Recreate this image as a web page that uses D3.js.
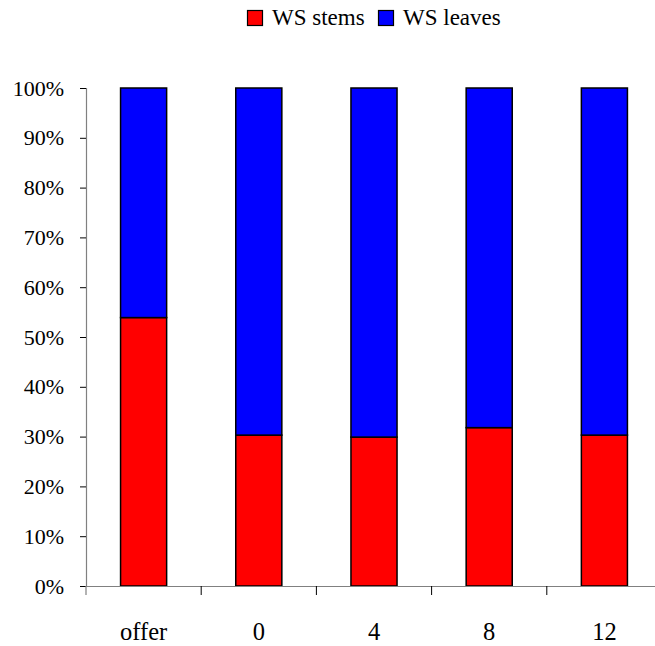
<!DOCTYPE html>
<html>
<head>
<meta charset="utf-8">
<script src="https://cdn.jsdelivr.net/npm/d3@7"></script>
<style>
  html, body { margin: 0; padding: 0; background: #fff; }
  svg { display: block; }
</style>
</head>
<body>
<svg id="chart" width="655" height="646" font-family="Liberation Serif" font-size="22"></svg>
<script>
const categories = ["offer", "0", "4", "8", "12"];
const stems = [53.9, 30.3, 29.9, 31.8, 30.3];
const leaves = [46.1, 69.7, 70.1, 68.2, 69.7];
const seriesNames = ["WS stems", "WS leaves"];
const seriesColors = ["#ff0000", "#0000ff"];
const yTicks = [0, 10, 20, 30, 40, 50, 60, 70, 80, 90, 100];

const FONT = "Liberation Serif";
const svg = d3.select("#chart");
const x0 = 86, x1 = 662, yTop = 88, yBot = 586;

const x = d3.scaleBand().domain(categories).range([x0, x1]).padding(0);
const y = d3.scaleLinear().domain([0, 100]).range([yBot, yTop]);

const barW = x.bandwidth() * 0.4;

const rows = categories.map((c, i) => ({ cat: c, stems: stems[i], leaves: leaves[i] }));
const stack = d3.stack().keys(["stems", "leaves"])
  .offset(d3.stackOffsetExpand)(rows);

// bars
stack.forEach((layer, li) => {
  svg.append("g").selectAll("rect").data(layer).join("rect")
    .attr("x", d => x(d.data.cat) + (x.bandwidth() - barW) / 2)
    .attr("width", barW)
    .attr("y", d => y(d[1] * 100))
    .attr("height", d => y(d[0] * 100) - y(d[1] * 100))
    .attr("fill", seriesColors[li])
    .attr("stroke", "#000")
    .attr("stroke-width", 1.5);
});

// y axis
const yAxis = d3.axisLeft(y).tickValues(yTicks).tickFormat(d => d + "%").tickSize(6).tickPadding(16);
const gy = svg.append("g").attr("transform", `translate(${x0},0)`).call(yAxis);
gy.attr("font-family", FONT).attr("font-size", 22);
gy.select(".domain").attr("stroke", "#808080").attr("stroke-width", 1.2);
gy.selectAll(".tick line").attr("stroke", "#000").attr("stroke-width", 1);
gy.selectAll(".tick text").attr("font-family", FONT).attr("font-size", 22).attr("fill", "#000");

// x axis
const xAxis = d3.axisBottom(x).tickSize(0).tickPadding(0);
const gx = svg.append("g").attr("transform", `translate(0,${yBot})`).call(xAxis);
gx.attr("font-family", FONT).attr("font-size", 24);
gx.select(".domain").attr("stroke", "#808080").attr("stroke-width", 1.2);
gx.selectAll(".tick text").attr("font-family", FONT).attr("font-size", 24.5).attr("fill", "#000")
  .attr("dy", null).attr("y", 54);
// category separator ticks at band boundaries
svg.append("g").selectAll("line").data(categories).join("line")
  .attr("x1", d => x(d) + x.step()).attr("x2", d => x(d) + x.step())
  .attr("y1", yBot).attr("y2", yBot + 9)
  .attr("stroke", "#000").attr("stroke-width", 1);
svg.append("line").attr("x1", x0).attr("x2", x0).attr("y1", yBot).attr("y2", yBot + 9)
  .attr("stroke", "#808080").attr("stroke-width", 1.2);

// legend
const legend = svg.append("g");
const legendItems = [{ name: seriesNames[0], color: seriesColors[0], x: 247 }, { name: seriesNames[1], color: seriesColors[1], x: 378 }];
legendItems.forEach(it => {
  legend.append("rect").attr("x", it.x + 0.5).attr("y", 10.5).attr("width", 15).attr("height", 15)
    .attr("fill", it.color).attr("stroke", "#000").attr("stroke-width", 1.2);
  legend.append("text").attr("x", it.x + 25).attr("y", 25)
    .attr("font-family", FONT).attr("font-size", 23).attr("fill", "#000").text(it.name);
});
</script>
</body>
</html>
